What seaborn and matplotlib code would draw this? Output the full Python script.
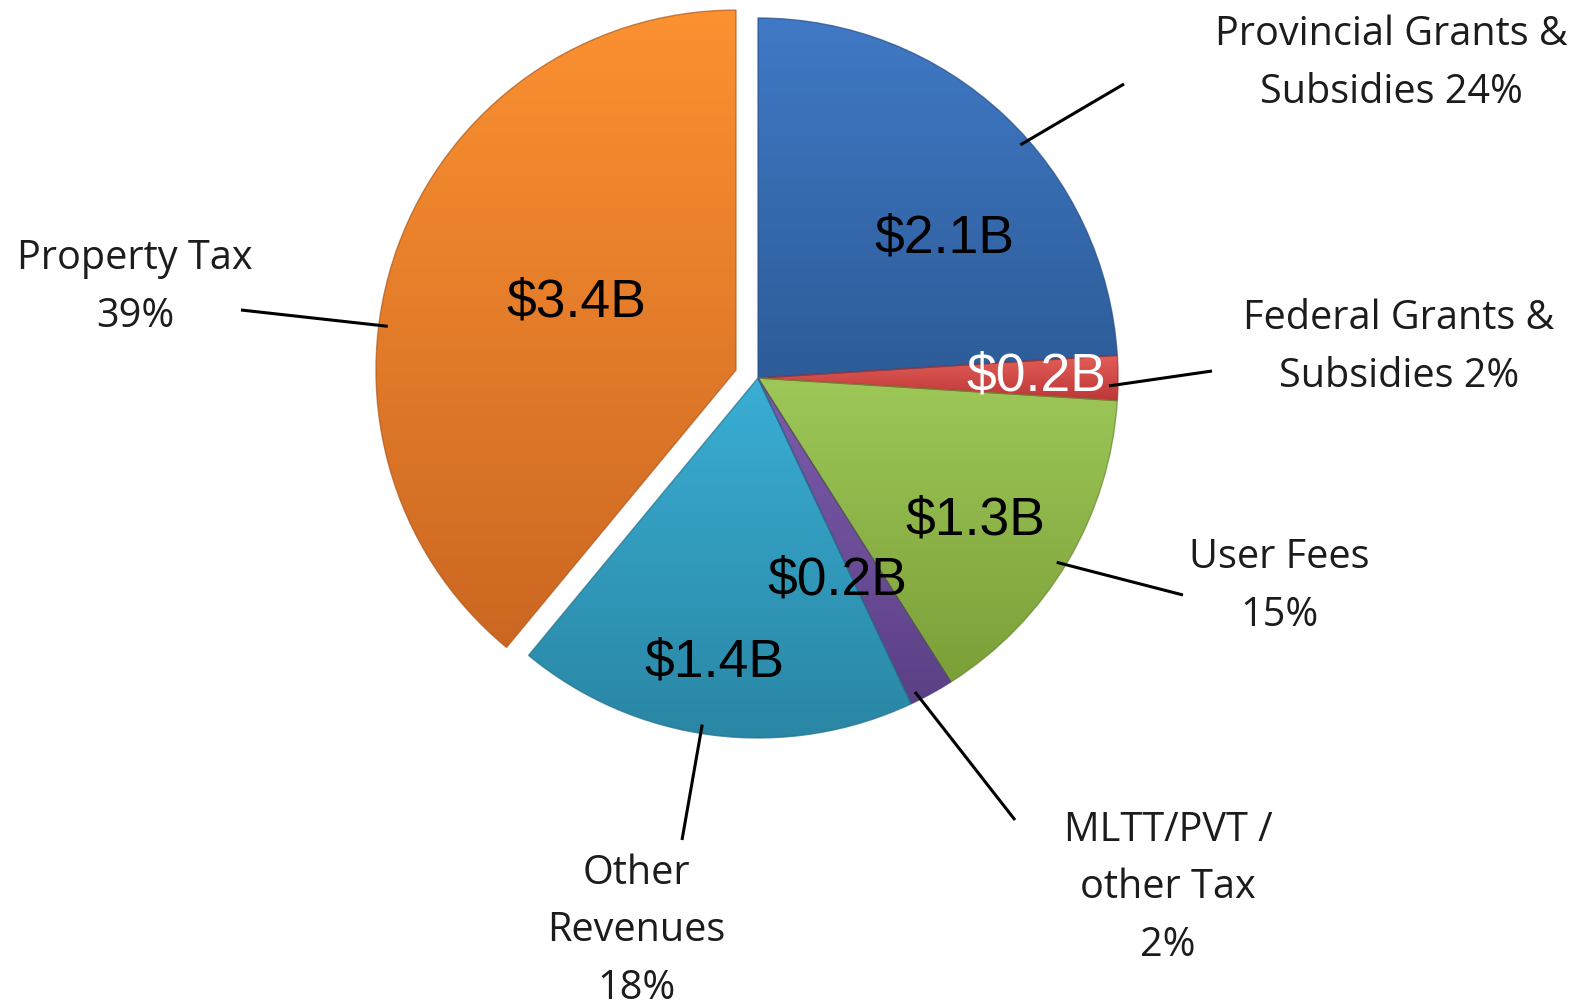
import numpy as np
import matplotlib.pyplot as plt
import matplotlib.colors as mcolors
import seaborn as sns

# revenue sources, clockwise from 12 o'clock
categories = ["Provincial Grants &\nSubsidies", "Federal Grants &\nSubsidies", "User Fees",
              "MLTT/PVT /\nother Tax", "Other\nRevenues", "Property Tax"]
label_text = ["Provincial Grants &\nSubsidies 24%", "Federal Grants &\nSubsidies 2%", "User Fees\n15%",
              "MLTT/PVT /\nother Tax\n2%", "Other\nRevenues\n18%", "Property Tax\n39%"]
shares = [24, 2, 15, 2, 18, 39]
amounts = [2.1, 0.2, 1.3, 0.2, 1.4, 3.4]

top_colors = ["#4079c6", "#e35e58", "#9dc858", "#7d5cae", "#3aaed4", "#fb9131"]
bot_colors = ["#2d5c98", "#bd3637", "#7c9f38", "#5b4085", "#2985a3", "#cc6722"]
explode_frac = [0, 0, 0, 0, 0, 0.065]

W, H = 1595, 1007
cx, cy, R = 758, H - 378, 360

sns.set_theme(style="white")
plt.rcParams["font.family"] = ["Open Sans", "DejaVu Sans"]

fig = plt.figure(figsize=(W / 100, H / 100), dpi=100)
ax = fig.add_axes([0, 0, 1, 1])

# pie explode is in data units, so scale by the radius
wedges, _ = ax.pie(shares, startangle=90, counterclock=False, center=(cx, cy), radius=R,
                   explode=[e * R for e in explode_frac], colors=top_colors,
                   wedgeprops=dict(edgecolor="none", linewidth=0))

# vertical gradient inside every wedge, like the old office style
for w, c1, c2 in zip(wedges, top_colors, bot_colors):
    pts = w.get_patch_transform().transform(w.get_path().vertices)
    x0, x1 = pts[:, 0].min(), pts[:, 0].max()
    y0, y1 = pts[:, 1].min(), pts[:, 1].max()
    cmap = mcolors.LinearSegmentedColormap.from_list("g", [c2, c1])
    grad = np.linspace(0, 1, 256).reshape(-1, 1)
    im = ax.imshow(grad, cmap=cmap, extent=(x0, x1, y0, y1), origin="lower",
                   aspect="auto", zorder=w.get_zorder() + 0.1)
    im.set_clip_path(w)
    edge = mcolors.to_rgba(c2)
    w.set_edgecolor(tuple(v * 0.85 for v in edge[:3]) + (0.7,))
    w.set_linewidth(1.0)
    w.set_zorder(w.get_zorder() + 0.2)
    w.set_facecolor("none")

# value labels inside the pie
value_pos = [(944, 239), (1036, 376), (975, 521), (837, 580), (714, 663), (576, 302)]
value_col = ["black", "white", "black", "black", "black", "black"]
for amt, (x, y), col in zip(amounts, value_pos, value_col):
    ax.text(x, H - y, f"${amt}B", ha="center", va="center", fontsize=38.5,
            color=col, family=["Liberation Sans", "DejaVu Sans"], zorder=10)

# outside labels with leader lines
lead_frac = [0.44, 0.32, 0.48, 0.19, 0.47, 0.59]
lead_end = [(1124, 84), (1212, 371), (1183, 595), (1015, 820), (682, 840), (241, 310)]
label_pos = [(1391, 64), (1399, 348), (1279, 587), (1168, 888), (636, 931), (135, 288)]
for w, f, (ex, ey), (lx, ly), txt in zip(wedges, lead_frac, lead_end, label_pos, label_text):
    ang = np.deg2rad(w.theta1 + f * (w.theta2 - w.theta1))
    sx = w.center[0] + 0.975 * w.r * np.cos(ang)
    sy = w.center[1] + 0.975 * w.r * np.sin(ang)
    ax.plot([sx, ex], [sy, H - ey], color="black", lw=2.2, zorder=11, solid_capstyle="butt")
    ax.text(lx, H - ly, txt, ha="center", va="center", fontsize=28.5, color="#1c1c1c",
            linespacing=1.56, zorder=12)

ax.set_xlim(0, W)
ax.set_ylim(0, H)
ax.set_aspect("equal")
ax.axis("off")

fig.savefig("out.png", dpi=100, facecolor="white")
